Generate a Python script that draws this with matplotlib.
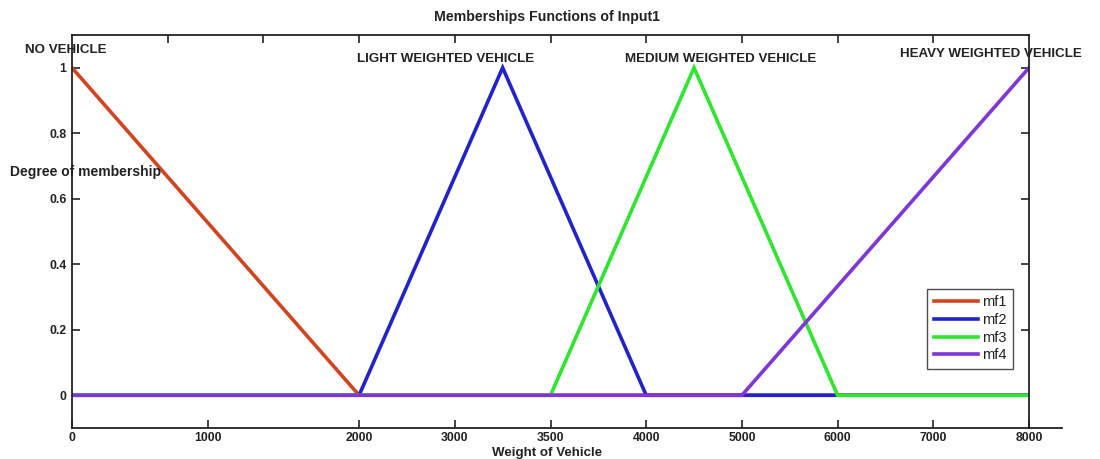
import matplotlib
matplotlib.use("Agg")
import matplotlib.pyplot as plt
from matplotlib.lines import Line2D

plt.rcParams['font.family'] = ['Liberation Sans', 'DejaVu Sans']

# Data (x in axis units; tick labels map axis units to vehicle weight)
mf_names = ['mf1', 'mf2', 'mf3', 'mf4']
mf_colors = ['#d2441e', '#2222cc', '#2ee62e', '#8035d8']
mf1_x = [0, 3, 10]
mf1_y = [1, 0, 0]
mf2_x = [0, 3, 4.5, 6, 10]
mf2_y = [0, 0, 1, 0, 0]
mf3_x = [0, 5, 6.5, 8, 10]
mf3_y = [0, 0, 1, 0, 0]
mf4_x = [0, 7, 10]
mf4_y = [0, 0, 1]
bottom_tick_pos = [0, 1.42, 3, 4, 5, 6, 7, 8, 9, 10]
bottom_tick_labels = ['0', '1000', '2000', '3000', '3500', '4000', '5000', '6000', '7000', '8000']
top_tick_pos = [1, 2, 3, 4, 5, 6, 7, 8, 9]
y_ticks = [0, 0.2, 0.4, 0.6, 0.8, 1]
y_tick_labels = ['0', '0.2', '0.4', '0.6', '0.8', '1']
annotations = [('NO VEHICLE', 25, 50), ('LIGHT WEIGHTED VEHICLE', 357, 59),
               ('MEDIUM WEIGHTED VEHICLE', 625, 59), ('HEAVY WEIGHTED VEHICLE', 900, 54)]

W, H = 1100, 459
TXT = '#222222'
fig = plt.figure(figsize=(11, 4.59), dpi=100)
ax = fig.add_axes([72 / W, 1 - 428 / H, (1029 - 72) / W, (428 - 35) / H])

series = [(mf1_x, mf1_y), (mf2_x, mf2_y), (mf3_x, mf3_y), (mf4_x, mf4_y)]
for (xs, ys), name, c in zip(series, mf_names, mf_colors):
    ax.plot(xs, ys, color=c, lw=2.6, label=name, solid_joinstyle='miter')

ax.set_xlim(0, 10)
ax.set_ylim(-0.1, 1.1)
ax.set_xticks(bottom_tick_pos)
ax.set_xticklabels(bottom_tick_labels, fontweight='bold')
ax.set_yticks(y_ticks)
ax.set_yticklabels(y_tick_labels, fontweight='bold')
ax.tick_params(axis='both', direction='in', length=6, width=1.2, labelsize=8.8, pad=4,
               colors=TXT)
ax.tick_params(axis='x', pad=3)
ax.tick_params(axis='y', right=True)
for s in ax.spines.values():
    s.set_linewidth(1.3)
    s.set_color(TXT)

sec = ax.secondary_xaxis('top')
sec.set_xticks(top_tick_pos)
sec.set_xticklabels([])
sec.tick_params(direction='in', length=6, width=1.2, colors=TXT)
sec.spines['top'].set_visible(False)

ax.add_line(Line2D([1, 1.035], [0, 0], transform=ax.transAxes, color=TXT,
                   lw=1.3, clip_on=False))

leg = ax.legend(loc='lower right', bbox_to_anchor=((1013 - 72) / 957, (428 - 369) / 393),
                prop={'size': 10.5}, frameon=True, fancybox=False, edgecolor=TXT,
                handlelength=3.0, handletextpad=0.3, borderpad=0.45, labelspacing=0.25,
                borderaxespad=0)
leg.get_frame().set_linewidth(1.0)
for t in leg.get_texts():
    t.set_color(TXT)

fig.text(547 / W, 1 - 17 / H, 'Memberships Functions of Input1', ha='center', va='center',
         fontsize=10.2, fontweight='bold', color=TXT)
fig.text(547 / W, 1 - 453 / H, 'Weight of Vehicle', ha='center', va='center',
         fontsize=9.6, fontweight='bold', color=TXT)
fig.text(10 / W, 1 - 172 / H, 'Degree of membership', ha='left', va='center',
         fontsize=10, fontweight='bold', color=TXT)
for txt, px, py in annotations:
    fig.text(px / W, 1 - py / H, txt, ha='left', va='center', fontsize=9.6,
             fontweight='bold', color=TXT)

fig.savefig('out.png', dpi=100)
